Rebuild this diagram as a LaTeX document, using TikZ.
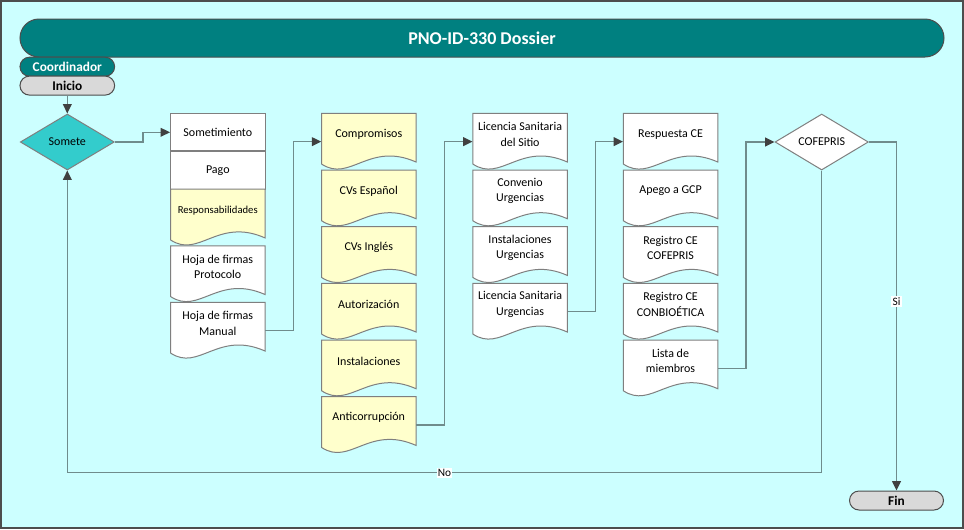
\documentclass[tikz,border=0pt]{standalone}
\usepackage{fontspec}
\setmainfont{Carlito}
\usetikzlibrary{shapes.geometric,shapes.misc,arrows.meta,calc}
\definecolor{bgc}{HTML}{CCFFFF}
\definecolor{tealc}{HTML}{008080}
\definecolor{pillgray}{HTML}{D9D9D9}
\definecolor{docyel}{HTML}{FFFFCC}
\definecolor{turq}{HTML}{33CCCC}
\definecolor{connc}{HTML}{6F8C8C}
\definecolor{arrowc}{HTML}{404040}
\definecolor{edgec}{HTML}{7F7F7F}
\definecolor{darkedge}{HTML}{4D4D4D}

% #1 name, #2 left x, #3 top y, #4 fill, #5 text
\newcommand\docshape[5]{%
  \pgfmathsetmacro\dxa{#2+94.5}%
  \pgfmathsetmacro\dyb{#3+48.7}%
  \pgfmathsetmacro\dyc{#3+50.7}%
  \pgfmathsetmacro\cxa{#2+47.25}%
  \pgfmathsetmacro\cya{#3+27.8}%
  \pgfmathsetmacro\cxb{#2+28.4}%
  \pgfmathsetmacro\cyb{#3+69.7}%
  \pgfmathsetmacro\cyc{#3+28.33}%
  \pgfmathsetmacro\cyt{#3+21}%
  \draw[docline, fill=#4] (#2,#3) -- (\dxa,#3) -- (\dxa,\dyb)
     .. controls (\cxa,\cya) and (\cxb,\cyb) .. (#2,\dyc) -- cycle;
  \node[docbox] (#1) at (\cxa,\cyc) {};
  \node[doctext] (#1-t) at (\cxa,\cyt) {#5};
}

\begin{document}
\begin{tikzpicture}[x=0.75pt,y=-0.75pt,
  docline/.style={draw=edgec, line width=0.75pt},
  docbox/.style={rectangle, draw=none, inner sep=0pt, minimum width=70.875pt, minimum height=42.5pt},
  doctext/.style={align=center, inner sep=0pt, font=\fontsize{9}{11.5}\selectfont},
  rectbox/.style={rectangle, draw=edgec, line width=0.75pt, fill=white, inner sep=0pt,
     minimum width=70.875pt, font=\fontsize{9}{11.5}\selectfont},
  pill/.style={rounded rectangle, draw=darkedge, line width=0.75pt, inner sep=0pt,
     minimum width=71pt, minimum height=14.25pt, font=\fontsize{10}{12}\selectfont\bfseries},
  decision/.style={diamond, draw=edgec, line width=0.75pt, inner sep=0pt,
     minimum width=70.5pt, minimum height=42pt, font=\fontsize{9}{11}\selectfont},
  conn/.style={draw=connc, line width=1.1pt,
     -{Triangle[length=7pt,width=6.5pt,color=arrowc]}},
  lab/.style={fill=white, inner sep=1pt, font=\fontsize{8.5}{10}\selectfont}
]
\useasboundingbox (0,0) rectangle (964,529);
\draw[fill=bgc, draw=darkedge, line width=1.2pt] (0.8,0.8) rectangle (963.2,528.2);

% header
\node[rounded rectangle, draw=darkedge, line width=0.75pt, fill=tealc, text=white,
  minimum width=693pt, minimum height=28.5pt, inner sep=0pt,
  font=\fontsize{13.5}{16}\selectfont\bfseries] (title) at (482,38) {PNO-ID-330 Dossier};
\node[pill, fill=tealc, text=white] (coord) at (67.3,66.7) {Coordinador};
\node[pill, fill=pillgray] (inicio) at (67.3,85.6) {Inicio};

% decision Somete
\node[decision, fill=turq] (somete) at (67.3,142) {Somete};

% column 1
\node[rectbox, minimum height=28pt] (someti) at (217.8,132.3) {Sometimiento};
\node[rectbox, minimum height=28.5pt] (pago) at (217.8,170.2) {Pago};
\docshape{resp}{170.5}{189.2}{docyel}{\fontsize{8}{10}\selectfont Responsabilidades}
\docshape{hprot}{170.5}{245.8}{white}{Hoja de firmas\\Protocolo}
\docshape{hman}{170.5}{302.3}{white}{Hoja de firmas\\Manual}

% column 2
\docshape{comp}{321.5}{113.3}{docyel}{Compromisos}
\docshape{cvesp}{321.5}{170.0}{docyel}{CVs Español}
\docshape{cving}{321.5}{226.7}{docyel}{CVs Inglés}
\docshape{autor}{321.5}{283.3}{docyel}{Autorización}
\docshape{instal}{321.5}{340.0}{docyel}{Instalaciones}
\docshape{antic}{321.5}{396.7}{docyel}{Anticorrupción}

% column 3
\docshape{licsit}{472.8}{113.3}{white}{Licencia Sanitaria\\del Sitio}
\docshape{convurg}{472.8}{170.0}{white}{Convenio\\Urgencias}
\docshape{insturg}{472.8}{226.7}{white}{Instalaciones\\Urgencias}
\docshape{licurg}{472.8}{283.3}{white}{Licencia Sanitaria\\Urgencias}

% column 4
\docshape{respce}{623.3}{113.3}{white}{Respuesta CE}
\docshape{apego}{623.3}{170.0}{white}{Apego a GCP}
\docshape{regcof}{623.3}{226.7}{white}{Registro CE\\COFEPRIS}
\docshape{regcon}{623.3}{283.3}{white}{Registro CE\\CONBIOÉTICA}
\docshape{lista}{623.3}{340.0}{white}{Lista de\\miembros}

% decision COFEPRIS
\node[decision, fill=white, minimum width=70pt] (cof) at (821.7,142) {COFEPRIS};

% end
\node[pill, fill=pillgray, minimum width=70.5pt] (fin) at (896.5,500.5) {Fin};

% connectors
\draw[conn] (inicio.south) -- (somete.north);
\draw[conn] (somete.east) -- ++(28,0) |- (someti.west);
\draw[conn] (hman.east) -- ++(28,0) |- (comp.west);
\draw[conn] (antic.east) -- ++(28,0) |- (licsit.west);
\draw[conn] (licurg.east) -- ++(28,0) |- (respce.west);
\draw[conn] (lista.east) -- ++(28,0) |- (cof.west);
\draw[conn] (cof.east) -| (fin.north) node[lab, pos=0.729] (si) {Si};
\draw[conn] (cof.south) -- ++(0,302) -| (somete.south) node[lab, pos=0.25] (no) {No};
\end{tikzpicture}
\end{document}
